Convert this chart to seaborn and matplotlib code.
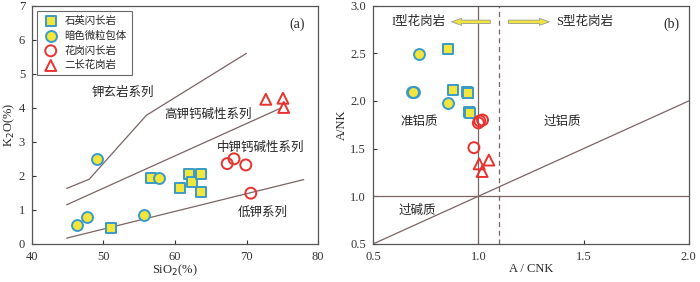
import pandas as pd
import numpy as np
import matplotlib
matplotlib.use('Agg')
import matplotlib.pyplot as plt
import seaborn as sns

sns.set_style('ticks')
plt.rcParams['font.family'] = ['Liberation Serif', 'Noto Sans CJK SC']
plt.rcParams['axes.unicode_minus'] = False

# --- data, panel (a): SiO2 vs K2O ---
qd_sio2 = [56.7, 51.0, 60.7, 61.9, 62.4, 63.6, 63.7]
qd_k2o = [1.94, 0.48, 1.64, 2.05, 1.82, 2.05, 1.52]
me_sio2 = [49.05, 46.25, 47.7, 55.7, 57.8]
me_k2o = [2.50, 0.55, 0.78, 0.86, 1.94]
gd_sio2 = [67.3, 68.25, 69.9, 70.6]
gd_k2o = [2.36, 2.50, 2.32, 1.49]
mg_sio2 = [72.7, 75.1, 75.2]
mg_k2o = [4.25, 4.28, 4.01]

# series boundary lines
sho_x = [44.85, 48.0, 56.0, 70.0]
sho_y = [1.63, 1.90, 3.78, 5.60]
hk_x = [44.85, 74.9]
hk_y = [1.15, 4.0]
lk_x = [44.85, 78.0]
lk_y = [0.17, 1.89]

# --- data, panel (b): A/CNK vs A/NK ---
qd_acnk = [0.854, 0.88, 0.944, 0.95, 0.956, 0.96, 0.95]
qd_ank = [2.55, 2.11, 2.09, 2.08, 1.88, 1.87, 2.08]
me_acnk = [0.72, 0.683, 0.696, 0.854, 0.69]
me_ank = [2.49, 2.09, 2.09, 1.98, 2.09]
gd_acnk = [1.0, 1.007, 1.02, 0.979]
gd_ank = [1.77, 1.79, 1.80, 1.51]
mg_acnk = [1.004, 1.05, 1.018]
mg_ank = [1.34, 1.38, 1.26]

names = ['石英闪长岩', '暗色微粒包体', '花岗闪长岩', '二长花岗岩']
yellow = '#f2e63c'
blue = '#3a9ac8'
red = '#e8322e'
linec = '#7a6464'

df_a = pd.concat([
    pd.DataFrame({'x': qd_sio2, 'y': qd_k2o, 'rock': names[0]}),
    pd.DataFrame({'x': me_sio2, 'y': me_k2o, 'rock': names[1]}),
    pd.DataFrame({'x': gd_sio2, 'y': gd_k2o, 'rock': names[2]}),
    pd.DataFrame({'x': mg_sio2, 'y': mg_k2o, 'rock': names[3]}),
])
df_b = pd.concat([
    pd.DataFrame({'x': qd_acnk, 'y': qd_ank, 'rock': names[0]}),
    pd.DataFrame({'x': me_acnk, 'y': me_ank, 'rock': names[1]}),
    pd.DataFrame({'x': gd_acnk, 'y': gd_ank, 'rock': names[2]}),
    pd.DataFrame({'x': mg_acnk, 'y': mg_ank, 'rock': names[3]}),
])

styles = {
    names[0]: dict(marker='s', facecolor=yellow, edgecolor=blue),
    names[1]: dict(marker='o', facecolor=yellow, edgecolor=blue),
    names[2]: dict(marker='o', facecolor='none', edgecolor=red),
    names[3]: dict(marker='^', facecolor='none', edgecolor=red),
}


def draw_points(ax, df):
    for name in names:
        st = styles[name]
        sns.scatterplot(data=df[df['rock'] == name], x='x', y='y', ax=ax,
                        marker=st['marker'], s=62, color=st['facecolor'],
                        edgecolor=st['edgecolor'], linewidth=1.4, label=name,
                        zorder=3)


def frame(ax):
    for sp in ax.spines.values():
        sp.set_color('#555555')
        sp.set_linewidth(0.9)
    ax.tick_params(direction='in', length=3, width=0.8, labelsize=9,
                   colors='#333333', pad=5)


fig = plt.figure(figsize=(7, 2.82), dpi=100)

# panel (a)
ax1 = fig.add_axes([0.0457, 0.135, 0.4086, 0.845])
ax1.plot(sho_x, sho_y, color=linec, lw=0.9)
ax1.plot(hk_x, hk_y, color=linec, lw=0.9)
ax1.plot(lk_x, lk_y, color=linec, lw=0.9)
draw_points(ax1, df_a)
ax1.set_xlim(40, 80)
ax1.set_ylim(0, 7)
ax1.set_xticks([40, 50, 60, 70, 80])
ax1.set_yticks(range(0, 8))
ax1.set_xlabel('SiO$_2$(%)', fontsize=9, labelpad=0)
ax1.set_ylabel('K$_2$O(%)', fontsize=9, labelpad=1)
frame(ax1)
ax1.text(52.7, 4.44, '钾玄岩系列', fontsize=9, ha='center', va='center')
ax1.text(64.6, 3.78, '高钾钙碱性系列', fontsize=9, ha='center', va='center')
ax1.text(71.9, 2.82, '中钾钙碱性系列', fontsize=9, ha='center', va='center')
ax1.text(72.2, 0.92, '低钾系列', fontsize=9, ha='center', va='center')
ax1.text(0.955, 0.95, '(a)', transform=ax1.transAxes, fontsize=10,
         ha='right', va='top')
leg = ax1.legend(loc='upper left', frameon=True, fancybox=False,
                 borderpad=0.5, handletextpad=0.5, labelspacing=0.45,
                 handlelength=1.6, borderaxespad=0.5,
                 prop={'family': ['Noto Sans CJK SC'], 'size': 7.5})
leg.get_frame().set_edgecolor('#444444')
leg.get_frame().set_linewidth(0.8)

# panel (b)
ax2 = fig.add_axes([0.533, 0.135, 0.451, 0.845])
ax2.plot([0.5, 2.0], [0.5, 2.0], color=linec, lw=0.9)
ax2.axvline(1.0, color=linec, lw=0.9)
ax2.axvline(1.1, color=linec, lw=0.9, ls='--', dashes=(4, 3))
ax2.axhline(1.0, color=linec, lw=0.9)
draw_points(ax2, df_b)
ax2.legend().remove()
ax2.set_xlim(0.5, 2.0)
ax2.set_ylim(0.5, 3.0)
ax2.set_xticks([0.5, 1.0, 1.5, 2.0])
ax2.set_yticks([0.5, 1.0, 1.5, 2.0, 2.5, 3.0])
ax2.xaxis.set_major_formatter(matplotlib.ticker.FormatStrFormatter('%.1f'))
ax2.yaxis.set_major_formatter(matplotlib.ticker.FormatStrFormatter('%.1f'))
ax2.set_xlabel('A / CNK', fontsize=9, labelpad=0)
ax2.set_ylabel('A/NK', fontsize=9, labelpad=2)
frame(ax2)
ax2.annotate('', xy=(0.86, 2.83), xytext=(1.07, 2.83),
             arrowprops=dict(arrowstyle='simple,head_width=0.5,head_length=0.7,tail_width=0.25',
                             facecolor=yellow, edgecolor='#999999', lw=0.6))
ax2.annotate('', xy=(1.35, 2.83), xytext=(1.13, 2.83),
             arrowprops=dict(arrowstyle='simple,head_width=0.5,head_length=0.7,tail_width=0.25',
                             facecolor=yellow, edgecolor='#999999', lw=0.6))
ax2.text(0.845, 2.83, 'I型花岗岩', fontsize=9, ha='right', va='center')
ax2.text(1.37, 2.83, 'S型花岗岩', fontsize=9, ha='left', va='center')
ax2.text(0.72, 1.78, '准铝质', fontsize=9, ha='center', va='center')
ax2.text(1.4, 1.78, '过铝质', fontsize=9, ha='center', va='center')
ax2.text(0.71, 0.85, '过碱质', fontsize=9, ha='center', va='center')
ax2.text(0.97, 0.95, '(b)', transform=ax2.transAxes, fontsize=10,
         ha='right', va='top')

fig.savefig('out.png', dpi=100)
